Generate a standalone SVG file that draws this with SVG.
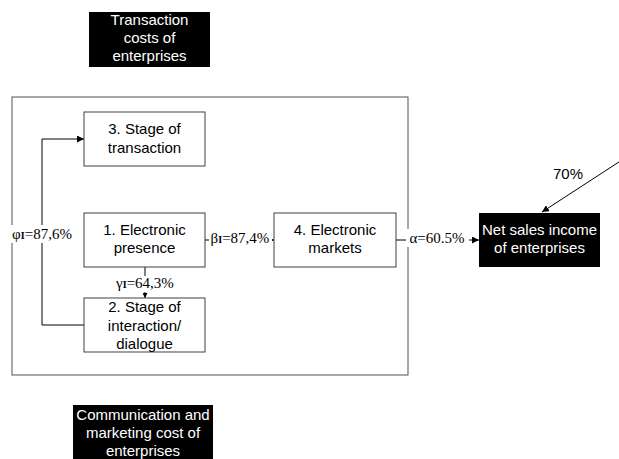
<svg xmlns="http://www.w3.org/2000/svg" width="619" height="459" viewBox="0 0 619 459">
<style>
.box{fill:#fff;stroke:#404040;stroke-width:1}
.dark{fill:#000}
.t{font-family:"Liberation Sans",Arial,sans-serif;font-size:15px;fill:#000;text-anchor:middle}
.tw{font-family:"Liberation Sans",Arial,sans-serif;font-size:15px;fill:#fff;text-anchor:middle}
.lbl{font-family:"Liberation Serif","Times New Roman",serif;font-size:15px;fill:#000;text-anchor:middle}
.sub{font-size:10px;font-weight:bold}
.ln{stroke:#000;stroke-width:1;fill:none}
.bg{fill:#fff}
</style>
<defs>
<marker id="ah" viewBox="0 0 10 10" refX="10" refY="5" markerWidth="7" markerHeight="7" markerUnits="userSpaceOnUse" orient="auto">
<path d="M0,0 L10,5 L0,10 Z" fill="#000"/>
</marker>
<marker id="as" viewBox="0 0 10 10" refX="10" refY="5" markerWidth="5" markerHeight="5" markerUnits="userSpaceOnUse" orient="auto">
<path d="M0,0 L10,5 L0,10 Z" fill="#000"/>
</marker>
</defs>
<rect width="619" height="459" fill="#fff"/>
<g id="frame"><rect x="12" y="97" width="396" height="278" fill="none" stroke="#505050" stroke-width="1"/></g>
<g id="connectors">
<path class="ln" d="M84,325 H42 V139 H84" marker-end="url(#ah)"/>
<path class="ln" d="M145,267 V298" marker-end="url(#as)"/>
<path class="ln" d="M205,240 H274" marker-end="url(#as)"/>
<path class="ln" d="M396,240 H479" marker-end="url(#ah)"/>
<path class="ln" d="M622,160 L542,212" marker-end="url(#ah)"/>
<rect class="bg" x="11" y="225" width="63" height="18"/>
<text class="lbl" x="42" y="238.5">φ<tspan class="sub">I</tspan>=87,6%</text>
<rect class="bg" x="114" y="276" width="62" height="16"/>
<text class="lbl" x="145" y="288">γ<tspan class="sub">I</tspan>=64,3%</text>
<rect class="bg" x="209" y="229" width="63" height="18"/>
<text class="lbl" x="240" y="243">β<tspan class="sub">I</tspan>=87,4%</text>
<rect class="bg" x="406" y="229" width="63" height="18"/>
<text class="lbl" x="437" y="243">α=60.5%</text>
<text class="t" x="568" y="179">70%</text>
</g>
<g id="n-transaction-costs"><rect class="dark" x="89" y="12" width="121" height="55"/>
<text class="tw" x="149.5" y="25">Transaction</text><text class="tw" x="149.5" y="43">costs of</text><text class="tw" x="149.5" y="61">enterprises</text></g>
<g id="n3"><rect class="box" x="84" y="112" width="121" height="54"/>
<text class="t" x="144.5" y="134">3. Stage of</text><text class="t" x="144.5" y="153">transaction</text></g>
<g id="n1"><rect class="box" x="84" y="213" width="121" height="54"/>
<text class="t" x="144.5" y="235">1. Electronic</text><text class="t" x="144.5" y="253">presence</text></g>
<g id="n2"><rect class="box" x="84" y="298" width="121" height="54"/>
<text class="t" x="144.5" y="312">2. Stage of</text><text class="t" x="144.5" y="331">interaction/</text><text class="t" x="144.5" y="349">dialogue</text></g>
<g id="n4"><rect class="box" x="274" y="213" width="122" height="54"/>
<text class="t" x="335" y="235">4. Electronic</text><text class="t" x="335" y="253">markets</text></g>
<g id="n-net-sales"><rect class="dark" x="479" y="213" width="121" height="54"/>
<text class="tw" x="539.5" y="235">Net sales income</text><text class="tw" x="539.5" y="253">of enterprises</text></g>
<g id="n-communication"><rect class="dark" x="73" y="405" width="140" height="54"/>
<text class="tw" x="143" y="420">Communication and</text><text class="tw" x="143" y="438">marketing cost of</text><text class="tw" x="143" y="456">enterprises</text></g>
</svg>
